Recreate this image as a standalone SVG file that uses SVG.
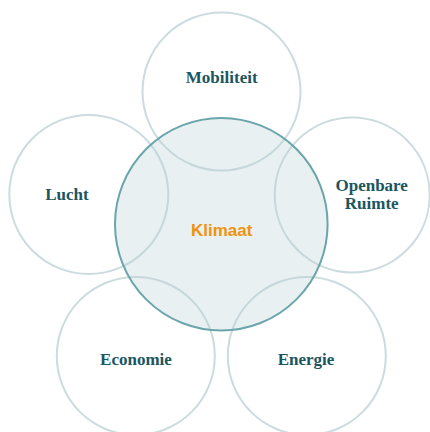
<svg xmlns="http://www.w3.org/2000/svg" width="430" height="432" viewBox="0 0 430 432">
<style>
.outer{fill:none;stroke:#b9cfd3;stroke-opacity:0.75;stroke-width:2}
.lbl{font-family:"Liberation Serif","Times New Roman",serif;font-weight:bold;font-size:17px;fill:#1b5660;text-anchor:middle}
.core{font-family:"Liberation Sans",Arial,sans-serif;font-weight:bold;font-size:17px;fill:#f0930e;text-anchor:middle}
</style>
<rect width="430" height="432" fill="#ffffff"/>
<circle cx="221.3" cy="224.2" r="106.3" fill="#e8f0f2"/>
<g id="mobiliteit"><circle class="outer" cx="221.5" cy="91.5" r="79"/><text class="lbl" x="221.7" y="83">Mobiliteit</text></g>
<g id="lucht"><circle class="outer" cx="88.8" cy="194.5" r="79.5"/><text class="lbl" x="67" y="200">Lucht</text></g>
<g id="openbare-ruimte"><circle class="outer" cx="352.2" cy="195" r="77.5"/><text class="lbl" x="371.7" y="190.7">Openbare</text><text class="lbl" x="371.7" y="209.3">Ruimte</text></g>
<g id="economie"><circle class="outer" cx="135.8" cy="356" r="79"/><text class="lbl" x="136" y="365">Economie</text></g>
<g id="energie"><circle class="outer" cx="306.8" cy="356" r="79"/><text class="lbl" x="306" y="365">Energie</text></g>
<g id="klimaat"><circle cx="221.3" cy="224.2" r="106.3" fill="none" stroke="#6aa5ac" stroke-width="2"/><text class="core" x="221.7" y="236">Klimaat</text></g>
<g id="connectors"></g>
</svg>
